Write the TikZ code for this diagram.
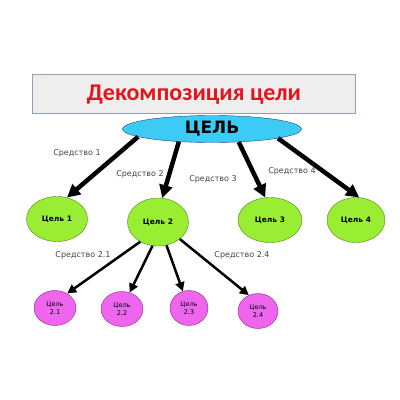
\documentclass[tikz,border=0pt]{standalone}
\usepackage{fontspec}
\setmainfont{DejaVu Sans}
\newfontfamily\titlefont{Carlito}
\usetikzlibrary{shapes.geometric}
\usetikzlibrary{arrows.meta}

\definecolor{titlered}{HTML}{E3141C}
\definecolor{boxgray}{HTML}{EEEEEE}
\definecolor{boxline}{HTML}{8FA0B0}
\definecolor{topblue}{HTML}{3CCBF4}
\definecolor{topline}{HTML}{1F3F8F}
\definecolor{goalgreen}{HTML}{99EE33}
\definecolor{goalline}{HTML}{4E7F1A}
\definecolor{subpink}{HTML}{EE66EE}
\definecolor{subline}{HTML}{8A2A8A}
\definecolor{meanstext}{HTML}{444444}

\begin{document}
\begin{tikzpicture}[x=1pt, y=-1pt,
        goal/.style={ellipse, draw=goalline, fill=goalgreen, inner sep=0pt,
            minimum width=61pt, minimum height=45pt,
            font=\bfseries\fontsize{7.5}{9}\selectfont},
        subgoal/.style={ellipse, draw=subline, fill=subpink, inner sep=0pt,
            minimum width=41pt, minimum height=35pt, align=center,
            font=\fontsize{6.5}{8}\selectfont},
        means/.style={text=meanstext, font=\fontsize{8}{10}\selectfont},
        bigarrow/.style={-{Triangle[length=13pt, width=13pt]}, line width=4.5pt},
        smallarrow/.style={-{Triangle[length=9pt, width=9pt]}, line width=2.5pt}]

        \useasboundingbox (0,0) rectangle (400,400);

        % title
        \node[draw=boxline, fill=boxgray, minimum width=323pt, minimum height=39pt]
            (titlebox) at (193.5,93.5) {};
        \node[text=titlered, font=\titlefont\bfseries\fontsize{24}{28}\selectfont]
            (title) at (194,95) {Декомпозиция цели};

        % main goal
        \node[ellipse, draw=topline, fill=topblue, inner sep=0pt,
            minimum width=179pt, minimum height=27pt,
            font=\bfseries\fontsize{17}{20}\selectfont] (goal) at (212,129) {ЦЕЛЬ};

        % goals of level 2
        \node[goal] (goal1) at (57,219) {Цель 1};
        \node[goal, minimum height=48pt] (goal2) at (158,222) {Цель 2};
        \node[goal, minimum width=64pt] (goal3) at (270,220) {Цель 3};
        \node[goal, minimum width=58pt] (goal4) at (356,220) {Цель 4};

        % goals of level 3
        \node[subgoal, minimum width=42pt] (goal21) at (55,308) {Цель\\2.1};
        \node[subgoal, minimum width=42pt] (goal22) at (122,309) {Цель\\2.2};
        \node[subgoal, minimum width=38pt] (goal23) at (189,308) {Цель\\2.3};
        \node[subgoal, minimum width=40pt] (goal24) at (258,311) {Цель\\2.4};

        \draw[bigarrow] (goal.186) -- (goal1.65);
        \draw[bigarrow] (goal.201) -- (goal2.80);
        \draw[bigarrow] (goal.334) -- (goal3.102);
        \draw[bigarrow] (goal.352) -- (goal4.82);

        \draw[smallarrow] (goal2.228) -- (goal21.50);
        \draw[smallarrow] (goal2.257) -- (goal22.65);
        \draw[smallarrow] (goal2.290) -- (goal23.110);
        \draw[smallarrow] (goal2.322) -- (goal24.120);

        \node[means] (means1) at (77,153) {Средство 1};
        \node[means] (means2) at (140,174) {Средство 2};
        \node[means] (means3) at (213,179) {Средство 3};
        \node[means] (means4) at (292,171) {Средство 4};
        \node[means] (means21) at (83,255) {Средство 2.1};
        \node[means] (means24) at (242,255) {Средство 2.4};

    \end{tikzpicture}
\end{document}
